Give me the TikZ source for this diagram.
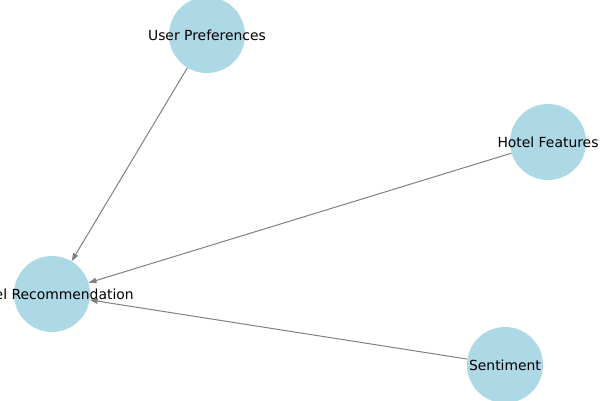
\documentclass[tikz,border=0pt]{standalone}
\usepackage{fontspec}
\setmainfont{DejaVu Sans}
\usetikzlibrary{positioning, arrows.meta}
\definecolor{nodeblue}{RGB}{173,216,230}
\definecolor{edgegray}{RGB}{128,128,128}

\begin{document}
\begin{tikzpicture}[x=1pt, y=1pt,
    factor/.style={circle, fill=nodeblue, draw=none, minimum size=76pt, inner sep=0pt,
      label={[font=\fontsize{13.9}{16}\selectfont, text=black]center:#1}},
    arrow/.style={draw=edgegray, line width=1pt, -{Triangle[length=8pt, width=5.5pt]}}]

    \clip (0,0) rectangle (600,400);
    \useasboundingbox (0,0) rectangle (600,400);

    % Nodes
    \node[factor={User Preferences}] (prefs) at (207,365) {};
    \node[factor={Hotel Features}] (features) at (548,258) {};
    \node[factor={Hotel Recommendation}] (recommend) at (52,106) {};
    \node[factor={Sentiment}] (sentiment) at (505,35) {};

    % Edges
    \draw[arrow] (prefs) -- (recommend);
    \draw[arrow] (features) -- (recommend);
    \draw[arrow] (sentiment) -- (recommend);
\end{tikzpicture}
\end{document}
